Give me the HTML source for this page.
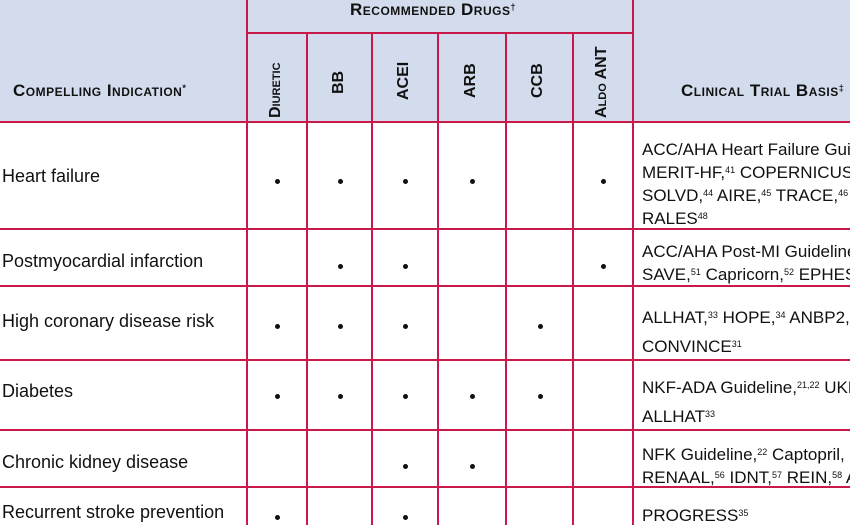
<!DOCTYPE html>
<html><head><style>
html,body{margin:0;width:850px;height:525px;overflow:hidden}
body{background:#fff;position:relative;font-family:"Liberation Sans",sans-serif;color:#111}
.a{position:absolute}
.h{position:absolute;background:#d3dcec}
.vl{position:absolute;width:2px;background:#c8194a}
.hl{position:absolute;height:2px;background:#c8194a}
.sc{font-weight:bold;font-variant:small-caps;font-size:17px;letter-spacing:0.5px;white-space:nowrap}
.rot{position:absolute;transform:rotate(-90deg);transform-origin:left top;font-weight:bold;font-size:16px;font-variant:small-caps;white-space:nowrap}
.t{position:absolute;font-size:18px;white-space:nowrap;left:2px}
.clip{position:absolute;left:642px;top:0;width:208px;height:525px;overflow:hidden}
.r{position:absolute;left:0;font-size:17px;line-height:20px;white-space:nowrap}
.d{position:absolute;width:5px;height:5px;border-radius:50%;background:#111}
sup{font-size:9px;vertical-align:5px}
</style></head><body>
<div class="h" style="left:0;top:0;width:850px;height:122px"></div>
<div class="hl" style="left:0;top:121px;width:850px"></div>
<div class="hl" style="left:247px;top:32px;width:387px"></div>
<div class="vl" style="left:246px;top:0;height:525px"></div>
<div class="vl" style="left:306px;top:33px;height:492px"></div>
<div class="vl" style="left:371px;top:33px;height:492px"></div>
<div class="vl" style="left:437px;top:33px;height:492px"></div>
<div class="vl" style="left:505px;top:33px;height:492px"></div>
<div class="vl" style="left:572px;top:33px;height:492px"></div>
<div class="vl" style="left:632px;top:0;height:525px"></div>
<div class="hl" style="left:0;top:228px;width:850px"></div>
<div class="hl" style="left:0;top:285px;width:850px"></div>
<div class="hl" style="left:0;top:359px;width:850px"></div>
<div class="hl" style="left:0;top:429px;width:850px"></div>
<div class="hl" style="left:0;top:486px;width:850px"></div>

<div class="a sc" style="left:350px;top:0px">Recommended Drugs<sup>†</sup></div>
<div class="a sc" style="left:13px;top:81px">Compelling Indication<sup>*</sup></div>
<div class="a sc" style="left:681px;top:81px">Clinical Trial Basis<sup>‡</sup></div>
<div class="rot" style="left:267px;top:118px">Diuretic</div>
<div class="rot" style="left:330px;top:94px">BB</div>
<div class="rot" style="left:395px;top:100px">ACEI</div>
<div class="rot" style="left:462px;top:98px">ARB</div>
<div class="rot" style="left:529px;top:98px">CCB</div>
<div class="rot" style="left:593px;top:118px">Aldo ANT</div>

<div class="t" style="top:166px">Heart failure</div>
<div class="t" style="top:251px">Postmyocardial infarction</div>
<div class="t" style="top:311px">High coronary disease risk</div>
<div class="t" style="top:381px">Diabetes</div>
<div class="t" style="top:452px">Chronic kidney disease</div>
<div class="t" style="top:502px">Recurrent stroke prevention</div>

<div class="clip">
<div class="r" style="top:137px">ACC/AHA Heart Failure Guideline,<sup>40</sup><br>MERIT-HF,<sup>41</sup> COPERNICUS,<sup>42</sup><br>SOLVD,<sup>44</sup> AIRE,<sup>45</sup> TRACE,<sup>46</sup> ValHEFT,<br>RALES<sup>48</sup></div>
<div class="r" style="top:242px">ACC/AHA Post-MI Guideline,<br>SAVE,<sup>51</sup> Capricorn,<sup>52</sup> EPHESUS</div>
<div class="r" style="top:302px;line-height:27px">ALLHAT,<sup>33</sup> HOPE,<sup>34</sup> ANBP2,<br>CONVINCE<sup>31</sup></div>
<div class="r" style="top:372px;line-height:27px">NKF-ADA Guideline,<sup>21,22</sup> UKPDS,<br>ALLHAT<sup>33</sup></div>
<div class="r" style="top:442px">NFK Guideline,<sup>22</sup> Captopril,<br>RENAAL,<sup>56</sup> IDNT,<sup>57</sup> REIN,<sup>58</sup> AASK</div>
<div class="r" style="top:503px">PROGRESS<sup>35</sup></div>
</div>

<div class="d" style="left:275px;top:179px"></div><div class="d" style="left:338px;top:179px"></div><div class="d" style="left:403px;top:179px"></div><div class="d" style="left:470px;top:179px"></div><div class="d" style="left:601px;top:179px"></div>
<div class="d" style="left:338px;top:264px"></div><div class="d" style="left:403px;top:264px"></div><div class="d" style="left:601px;top:264px"></div>
<div class="d" style="left:275px;top:324px"></div><div class="d" style="left:338px;top:324px"></div><div class="d" style="left:403px;top:324px"></div><div class="d" style="left:538px;top:324px"></div>
<div class="d" style="left:275px;top:394px"></div><div class="d" style="left:338px;top:394px"></div><div class="d" style="left:403px;top:394px"></div><div class="d" style="left:470px;top:394px"></div><div class="d" style="left:538px;top:394px"></div>
<div class="d" style="left:403px;top:464px"></div><div class="d" style="left:470px;top:464px"></div>
<div class="d" style="left:275px;top:515px"></div><div class="d" style="left:403px;top:515px"></div>
</body></html>
